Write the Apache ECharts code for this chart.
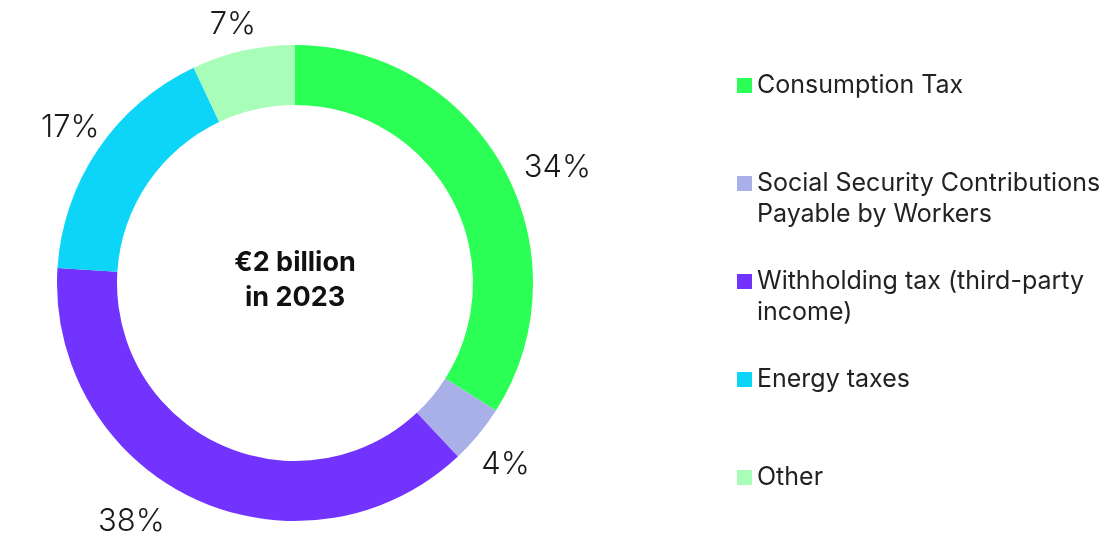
<!DOCTYPE html>
<html>
<head>
<meta charset="utf-8">
<script src="https://cdn.jsdelivr.net/npm/echarts@6/dist/echarts.min.js"></script>
<style>
html,body{margin:0;padding:0;background:#fff;}
#chart{width:1108px;height:538px;}
</style>
</head>
<body>
<div id="chart"></div>
<script>
const categories = [
  'Consumption Tax',
  'Social Security Contributions\nPayable by Workers',
  'Withholding tax (third-party\nincome)',
  'Energy taxes',
  'Other'
];
const shares = [34, 4, 38, 17, 7];
const colors = ['#2BFF55', '#A9B0E8', '#7233FF', '#0DD5F7', '#A8FDB8'];
const centerText = '€2 billion\nin 2023';

const chart = echarts.init(document.getElementById('chart'), null, {renderer: 'canvas'});

const legendData = categories.map(function (name) {
  const twoLines = name.indexOf('\n') >= 0;
  return {
    name: name,
    textStyle: { padding: twoLines ? [0, 0, 0, 0] : [31, 0, 31, 0] }
  };
});

// small nudges so the outside labels sit where the reference places them
const labelNudge = [[-3, 6], [-19, 21], [-12, 11], [24, -14], [27, -12]];

const option = {
  backgroundColor: '#ffffff',
  color: colors,
  legend: {
    orient: 'vertical',
    left: 737,
    top: 39,
    padding: 0,
    itemWidth: 15,
    itemHeight: 15,
    itemGap: 5,
    icon: 'rect',
    selectedMode: false,
    data: legendData,
    formatter: function (name) {
      return name.indexOf('\n') >= 0 ? ' \n' + name : name;
    },
    textStyle: {
      fontFamily: 'Inter',
      fontSize: 25,
      color: '#222222',
      lineHeight: 31
    }
  },
  graphic: [{
    type: 'text',
    x: 295,
    y: 280,
    style: {
      text: centerText,
      fontFamily: 'Inter',
      fontWeight: 'bold',
      fontSize: 27,
      lineHeight: 35,
      fill: '#111111',
      align: 'center',
      verticalAlign: 'middle'
    }
  }],
  series: [{
    type: 'pie',
    center: [295, 283],
    radius: [178, 238],
    startAngle: 90,
    clockwise: true,
    avoidLabelOverlap: false,
    itemStyle: { borderWidth: 0 },
    label: {
      show: true,
      position: 'outside',
      formatter: '{c}%',
      fontFamily: 'Inter',
      fontWeight: 300,
      fontSize: 31,
      color: '#1a1a1a'
    },
    labelLine: { show: false, length: 14, length2: 6 },
    labelLayout: function (params) {
      const n = labelNudge[params.dataIndex];
      return { dx: n[0], dy: n[1] };
    },
    emphasis: { disabled: true },
    data: categories.map(function (n, i) { return { name: n, value: shares[i] }; })
  }]
};
chart.setOption(option);
</script>
</body>
</html>
